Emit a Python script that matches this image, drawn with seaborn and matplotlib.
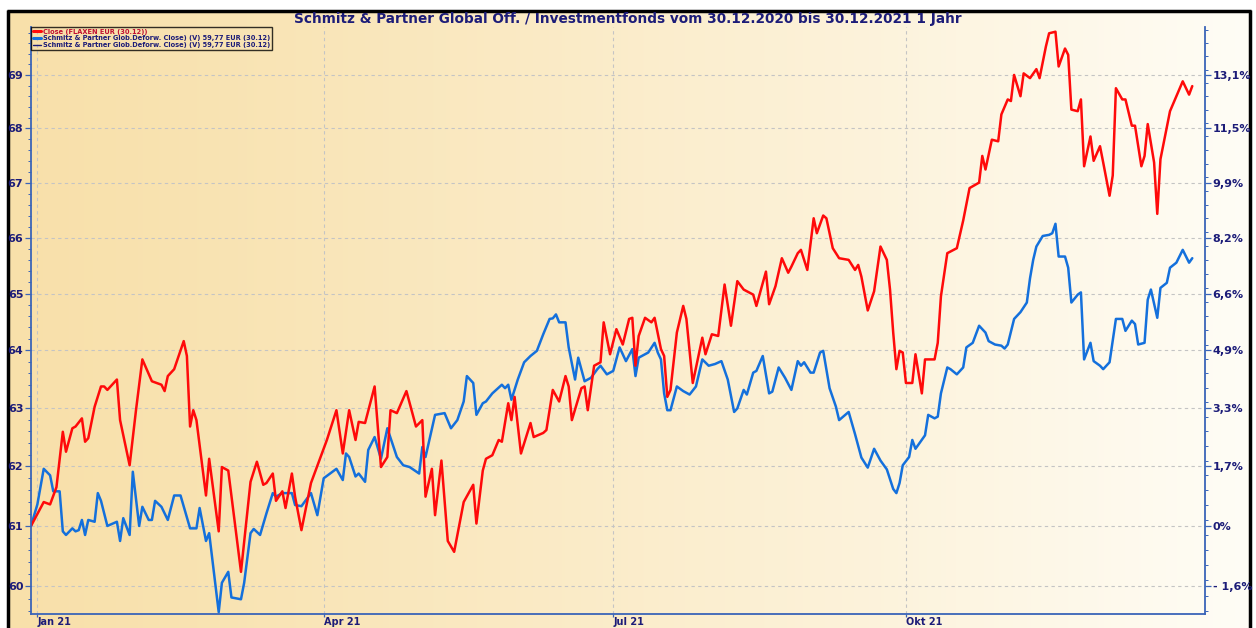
import numpy as np
import pandas as pd
import matplotlib
matplotlib.use("Agg")
import matplotlib.pyplot as plt
import matplotlib.ticker as mticker
from matplotlib.lines import Line2D
import seaborn as sns

# day offset from 30.12.2020, price (EUR)
fund = [
    (0, 61.00), (4, 61.40), (6, 61.36), (8, 61.65), (10, 62.59), (11, 62.25), (13, 62.65), (14, 62.68),
    (16, 62.82), (17, 62.42), (18, 62.48), (20, 63.02), (22, 63.37), (23, 63.37), (24, 63.31), (27, 63.49),
    (28, 62.79), (31, 62.02), (33, 62.96), (35, 63.84), (38, 63.46), (41, 63.40), (42, 63.29), (43, 63.55),
    (45, 63.67), (48, 64.16), (49, 63.90), (50, 62.68), (51, 62.96), (52, 62.79), (55, 61.51), (56, 62.13),
    (59, 60.91), (60, 61.99), (62, 61.93), (66, 60.24), (69, 61.74), (71, 62.08), (73, 61.69), (74, 61.72),
    (76, 61.88), (77, 61.42), (79, 61.58), (80, 61.30), (82, 61.88), (83, 61.49), (85, 60.93), (88, 61.72),
    (91, 62.16), (93, 62.45), (96, 62.96), (98, 62.22), (100, 62.96), (102, 62.45), (103, 62.76), (105, 62.74),
    (108, 63.37), (110, 61.99), (112, 62.16), (113, 62.96), (115, 62.91), (118, 63.29), (121, 62.68), (123, 62.79),
    (124, 61.49), (126, 61.96), (127, 61.18), (129, 62.10), (131, 60.75), (133, 60.57), (136, 61.40), (139, 61.69),
    (140, 61.04), (142, 61.93), (143, 62.13), (145, 62.19), (147, 62.45), (148, 62.42), (150, 63.08), (151, 62.79),
    (152, 63.19), (154, 62.22), (157, 62.74), (158, 62.50), (161, 62.57), (162, 62.62), (164, 63.31), (166, 63.11),
    (168, 63.55), (169, 63.37), (170, 62.79), (173, 63.34), (174, 63.37), (175, 62.96), (177, 63.73), (179, 63.79),
    (180, 64.49), (182, 63.93), (184, 64.37), (186, 64.10), (188, 64.55), (189, 64.57), (190, 63.73), (191, 64.25),
    (193, 64.57), (195, 64.49), (196, 64.57), (198, 64.02), (199, 63.90), (200, 63.19), (201, 63.31), (203, 64.31),
    (205, 64.78), (206, 64.55), (208, 63.43), (211, 64.22), (212, 63.93), (214, 64.28), (216, 64.25), (218, 65.16),
    (220, 64.43), (222, 65.22), (224, 65.07), (227, 64.98), (228, 64.78), (231, 65.39), (232, 64.81), (234, 65.13),
    (236, 65.63), (238, 65.37), (239, 65.48), (241, 65.72), (242, 65.78), (244, 65.42), (246, 66.35), (247, 66.08),
    (249, 66.40), (250, 66.35), (252, 65.81), (254, 65.63), (257, 65.60), (259, 65.42), (260, 65.51), (261, 65.30),
    (263, 64.70), (265, 65.04), (267, 65.84), (269, 65.60), (270, 65.07), (271, 64.31), (272, 63.67), (273, 63.99),
    (274, 63.96), (275, 63.43), (277, 63.43), (278, 63.93), (280, 63.25), (281, 63.84), (284, 63.84), (285, 64.13),
    (286, 64.95), (288, 65.72), (291, 65.81), (293, 66.31), (295, 66.90), (298, 67.00), (299, 67.49), (300, 67.24),
    (302, 67.79), (304, 67.76), (305, 68.26), (307, 68.54), (308, 68.51), (309, 69.00), (311, 68.60), (312, 69.03),
    (314, 68.94), (316, 69.11), (317, 68.94), (319, 69.54), (320, 69.79), (322, 69.82), (323, 69.16), (325, 69.50),
    (326, 69.38), (327, 68.35), (329, 68.32), (330, 68.54), (331, 67.30), (333, 67.85), (334, 67.40), (336, 67.67),
    (337, 67.37), (339, 66.76), (340, 67.13), (341, 68.75), (343, 68.54), (344, 68.54), (346, 68.05), (347, 68.05),
    (349, 67.30), (350, 67.49), (351, 68.08), (353, 67.37), (354, 66.43), (355, 67.43), (357, 68.02), (358, 68.32),
    (360, 68.60), (362, 68.88), (364, 68.63), (365, 68.79),
]

schmitz = [
    (0, 61.00), (2, 61.36), (4, 61.96), (6, 61.85), (7, 61.58), (9, 61.58), (10, 60.91), (11, 60.85),
    (13, 60.96), (14, 60.91), (15, 60.93), (16, 61.10), (17, 60.85), (18, 61.10), (20, 61.07), (21, 61.55),
    (22, 61.42), (24, 61.00), (27, 61.07), (28, 60.75), (29, 61.13), (31, 60.85), (32, 61.91), (34, 61.00),
    (35, 61.32), (37, 61.10), (38, 61.10), (39, 61.42), (41, 61.32), (43, 61.10), (45, 61.51), (47, 61.51),
    (50, 60.96), (52, 60.96), (53, 61.30), (55, 60.75), (56, 60.88), (59, 59.58), (60, 60.06), (62, 60.24),
    (63, 59.82), (66, 59.79), (67, 60.06), (69, 60.88), (70, 60.95), (72, 60.85), (74, 61.21), (76, 61.55),
    (77, 61.49), (79, 61.55), (82, 61.55), (83, 61.35), (85, 61.33), (88, 61.55), (90, 61.18), (92, 61.80),
    (96, 61.96), (98, 61.77), (99, 62.22), (100, 62.16), (102, 61.83), (103, 61.88), (105, 61.74), (106, 62.28),
    (108, 62.50), (110, 62.13), (112, 62.65), (115, 62.16), (117, 62.02), (119, 61.99), (122, 61.88), (123, 62.33),
    (124, 62.16), (127, 62.88), (130, 62.91), (132, 62.65), (134, 62.79), (136, 63.11), (137, 63.55), (139, 63.43),
    (140, 62.88), (142, 63.08), (143, 63.11), (145, 63.25), (148, 63.40), (149, 63.34), (150, 63.40), (151, 63.14),
    (153, 63.49), (155, 63.79), (157, 63.90), (159, 63.99), (161, 64.28), (163, 64.55), (164, 64.56), (165, 64.63),
    (166, 64.49), (168, 64.49), (169, 64.05), (171, 63.49), (172, 63.87), (174, 63.46), (176, 63.52), (178, 63.67),
    (179, 63.73), (181, 63.58), (183, 63.64), (185, 64.05), (187, 63.81), (189, 64.02), (190, 63.55), (191, 63.87),
    (194, 63.96), (196, 64.13), (197, 63.96), (198, 63.84), (199, 63.25), (200, 62.96), (201, 62.96), (203, 63.37),
    (205, 63.29), (207, 63.23), (209, 63.37), (211, 63.84), (213, 63.73), (215, 63.76), (217, 63.81), (219, 63.49),
    (221, 62.93), (222, 62.99), (224, 63.31), (225, 63.23), (227, 63.61), (228, 63.64), (230, 63.90), (232, 63.25),
    (233, 63.28), (235, 63.70), (237, 63.52), (239, 63.31), (241, 63.81), (242, 63.73), (243, 63.79), (245, 63.61),
    (246, 63.61), (248, 63.96), (249, 63.99), (251, 63.34), (253, 63.02), (254, 62.79), (257, 62.93), (259, 62.55),
    (261, 62.15), (263, 61.98), (265, 62.30), (267, 62.10), (269, 61.95), (271, 61.62), (272, 61.55), (273, 61.72),
    (274, 62.02), (276, 62.16), (277, 62.45), (278, 62.30), (281, 62.53), (282, 62.88), (284, 62.82), (285, 62.85),
    (286, 63.25), (288, 63.70), (289, 63.67), (291, 63.58), (293, 63.70), (294, 64.05), (296, 64.13), (298, 64.43),
    (300, 64.31), (301, 64.16), (303, 64.10), (305, 64.08), (306, 64.03), (307, 64.10), (309, 64.55), (311, 64.67),
    (313, 64.84), (314, 65.27), (315, 65.60), (316, 65.84), (318, 66.03), (320, 66.05), (321, 66.08), (322, 66.25),
    (323, 65.66), (325, 65.66), (326, 65.46), (327, 64.84), (329, 64.98), (330, 65.02), (331, 63.84), (333, 64.13),
    (334, 63.81), (336, 63.73), (337, 63.67), (339, 63.79), (341, 64.55), (343, 64.55), (344, 64.34), (346, 64.52),
    (347, 64.46), (348, 64.10), (350, 64.13), (351, 64.89), (352, 65.07), (354, 64.57), (355, 65.10), (357, 65.19),
    (358, 65.46), (360, 65.55), (362, 65.78), (364, 65.55), (365, 65.63),
]

price_ticks = [60, 61, 62, 63, 64, 65, 66, 67, 68, 69]
pct_labels = ["- 1,6%", "0%", "1,7%", "3,3%", "4,9%", "6,6%", "8,2%", "9,9%", "11,5%", "13,1%"]
month_ticks = ["2021-01-01", "2021-04-01", "2021-07-01", "2021-10-01"]
month_labels = ["Jan 21", "Apr 21", "Jul 21", "Okt 21"]
legend_labels = [
    "Close (FLAXEN EUR (30.12))",
    "Schmitz & Partner Glob.Deforw. Close) (V) 59,77 EUR (30.12)",
    "Schmitz & Partner Glob.Deforw. Close) (V) 59,77 EUR (30.12)",
]
title = "Schmitz & Partner Global Off. / Investmentfonds vom 30.12.2020 bis 30.12.2021 1 Jahr"

start = pd.Timestamp("2020-12-30")
W, H = 1256, 628
RED = "#ff0a0a"
BLUE = "#1470dc"
NAVY = "#1c1c78"
SPINE = "#3a64b8"


def to_frame(points, name):
    days, vals = zip(*points)
    return pd.DataFrame({
        "date": start + pd.to_timedelta(list(days), unit="D"),
        "price": vals,
        "series": name,
    })


df = pd.concat([to_frame(fund, "fund"), to_frame(schmitz, "schmitz")], ignore_index=True)

sns.set_theme(style="white")
plt.rcParams["font.family"] = ["DejaVu Sans"]
plt.rcParams["font.weight"] = "bold"

fig = plt.figure(figsize=(W / 100, H / 100), dpi=100)
fig.patch.set_facecolor("white")

# background gradient + black frame, in pixel coords
bg = fig.add_axes([0, 0, 1, 1], zorder=-5)
bg.set_xlim(0, W)
bg.set_ylim(H, 0)
bg.axis("off")
left_c = np.array([248, 224, 170]) / 255
right_c = np.array([255, 253, 246]) / 255
t = np.linspace(0, 1, 400) ** 1.2
grad = (left_c[None, :] * (1 - t[:, None]) + right_c[None, :] * t[:, None])[None, :, :]
bg.imshow(grad, extent=[8, 1250, H, 11], aspect="auto", interpolation="bilinear")
bg.plot([8, 8], [H, 10], color="black", lw=2.5, solid_capstyle="butt")
bg.plot([6.8, 1251.2], [11, 11], color="black", lw=2.5, solid_capstyle="butt")
bg.plot([1250, 1250], [H, 10], color="black", lw=2.5, solid_capstyle="butt")

ax = fig.add_axes([31 / W, 14 / H, 1174 / W, 587 / H])
ax.patch.set_alpha(0)

sns.lineplot(data=df, x="date", y="price", hue="series", hue_order=["schmitz", "fund"],
             palette={"fund": RED, "schmitz": BLUE}, estimator=None, legend=False,
             linewidth=1.8, ax=ax)

ax.set_yscale("log")
ax.set_ylim(59.55, 69.91)
ax.set_xlim(start, pd.Timestamp("2022-01-03"))

ax.yaxis.set_major_locator(mticker.FixedLocator(price_ticks))
ax.yaxis.set_major_formatter(mticker.FixedFormatter([str(v) for v in price_ticks]))
ax.yaxis.set_minor_locator(mticker.FixedLocator(np.arange(59.6, 69.9, 0.2)))
ax.yaxis.set_minor_formatter(mticker.NullFormatter())

ax.set_xticks(pd.to_datetime(month_ticks))
ax.set_xticklabels(month_labels, ha="left")
ax.set_xlabel("")
ax.set_ylabel("")

ax.grid(True, which="major", axis="both", color="#c4c4c4", linestyle=(0, (3, 3)), linewidth=0.8)
ax.set_axisbelow(True)

for side in ["left", "bottom"]:
    ax.spines[side].set_color(SPINE)
    ax.spines[side].set_linewidth(1.3)
ax.spines["top"].set_visible(False)
ax.spines["right"].set_visible(False)

ax.tick_params(axis="y", which="major", direction="out", length=4, width=0.9, color=SPINE,
               labelcolor=NAVY, labelsize=8, pad=1.5, left=True)
ax.tick_params(axis="y", which="minor", direction="out", length=2, width=0.7, color=SPINE, left=True)
ax.tick_params(axis="x", which="major", direction="out", length=2, width=0.9, color=SPINE,
               labelcolor=NAVY, labelsize=7, pad=0, bottom=True)

ax2 = ax.twinx()
ax2.set_yscale("log")
ax2.set_ylim(ax.get_ylim())
ax2.yaxis.set_major_locator(mticker.FixedLocator(price_ticks))
ax2.yaxis.set_major_formatter(mticker.FixedFormatter(pct_labels))
ax2.yaxis.set_minor_locator(mticker.FixedLocator(np.arange(59.6, 69.9, 0.25)))
ax2.yaxis.set_minor_formatter(mticker.NullFormatter())
for side in ["left", "top", "bottom"]:
    ax2.spines[side].set_visible(False)
ax2.spines["right"].set_color(SPINE)
ax2.spines["right"].set_linewidth(1.3)
ax2.tick_params(axis="y", which="major", direction="out", length=4, width=0.9, color=SPINE,
                labelcolor=NAVY, labelsize=8, pad=1.5, right=True)
ax2.tick_params(axis="y", which="minor", direction="out", length=2, width=0.7, color=SPINE, right=True)
ax2.grid(False)

handles = [Line2D([], [], color=RED, lw=2.2), Line2D([], [], color=BLUE, lw=2.2),
           Line2D([], [], color=NAVY, lw=1.0)]
leg = ax2.legend(handles, legend_labels, loc="upper left", bbox_to_anchor=(0.0, 1.0),
                 borderaxespad=0.0, fontsize=4.8, handlelength=1.2, handletextpad=0.4,
                 labelspacing=0.1, borderpad=0.25, fancybox=False, frameon=True)
leg.get_frame().set_edgecolor("black")
leg.get_frame().set_linewidth(1.0)
leg.get_frame().set_facecolor("none")
for txt, c in zip(leg.get_texts(), ["#c01030", NAVY, NAVY]):
    txt.set_color(c)

fig.text(0.5, 1 - 18.5 / H, title, ha="center", va="center", fontsize=9.8,
         fontweight="bold", color=NAVY)

fig.savefig("out.png", dpi=100)
